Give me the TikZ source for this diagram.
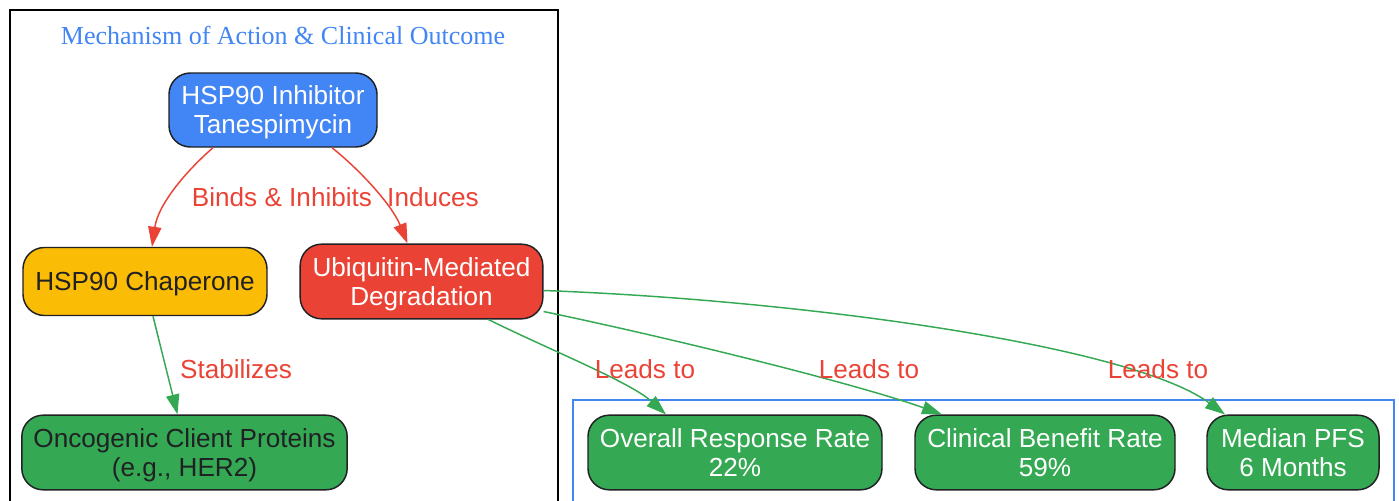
\documentclass[tikz,border=0pt]{standalone}
\usepackage{fontspec}
\setmainfont{Liberation Sans}
\newfontfamily\titlefont{Liberation Serif}
\usetikzlibrary{arrows.meta}
\usetikzlibrary{calc}

\definecolor{gblue}{RGB}{66,133,244}
\definecolor{gred}{RGB}{234,67,53}
\definecolor{gyellow}{RGB}{251,188,5}
\definecolor{ggreen}{RGB}{52,168,83}
\definecolor{gdark}{RGB}{32,33,36}

\tikzset{
  box/.style={draw=gdark, line width=1.1pt, rounded corners=16pt, align=center,
    inner sep=0pt, minimum height=56pt, text depth=-2pt,
    font=\fontsize{19.6}{21.75}\selectfont},
  lbl/.style={text=gred, inner sep=0pt, font=\fontsize{19.6}{21.75}\selectfont},
  edge/.style={line width=1.1pt, -{Triangle[length=15pt,width=10pt]}},
}

\begin{document}
\begin{tikzpicture}[x=0.75pt,y=0.75pt,yscale=-1]
\useasboundingbox (0,0) rectangle (1399,500);
\clip (0,0) rectangle (1399,500);

%Frames
\draw [line width=1.1pt, black] (10,10) rectangle (558,520) ;
\draw [line width=1.1pt, gblue] (573,400) rectangle (1394,520) ;

% Title
\node (title) at (283,35) [text=gblue, inner sep=0pt, font=\titlefont\fontsize{19.5}{22}\selectfont] {Mechanism of Action \& Clinical Outcome};

%Nodes
\node (inhibitor) at (273,110) [box, fill=gblue, text=white, minimum width=156pt, minimum height=55.5pt] {HSP90 Inhibitor\\Tanespimycin};
\node (chaperone) at (145,281.5) [box, fill=gyellow, text=gdark, minimum width=183pt, minimum height=51pt] {HSP90 Chaperone};
\node (degrad) at (421.5,281.5) [box, fill=gred, text=white, minimum width=182pt] {Ubiquitin-Mediated\\Degradation};
\node (client) at (184.5,452.5) [box, fill=ggreen, text=gdark, minimum width=244pt] {Oncogenic Client Proteins\\(e.g., HER2)};
\node (orr) at (735,452.5) [box, fill=ggreen, text=white, minimum width=220.5pt] {Overall Response Rate\\22\%};
\node (cbr) at (1045,452.5) [box, fill=ggreen, text=white, minimum width=195pt] {Clinical Benefit Rate\\59\%};
\node (pfs) at (1293,452.5) [box, fill=ggreen, text=white, minimum width=129pt] {Median PFS\\6 Months};

%Edges
\draw [edge, gred] ($(inhibitor.south)+(-60,0)$) .. controls (185,172) and (158,205) .. ($(chaperone.north)+(7,0)$) ;
\draw [edge, gred] ($(inhibitor.south)+(59,0)$) .. controls (360,170) and (392,205) .. ($(degrad.north)+(-14,0)$) ;
\draw [edge, ggreen] ($(chaperone.south)+(8,0)$) -- ($(client.north)+(-7,0)$) ;
\draw [edge, ggreen] ($(degrad.south)+(67,0)$) .. controls (550,350) and (630,382) .. ($(orr.north)+(-69,0)$) ;
\draw [edge, ggreen] ($(degrad.east)+(0,30)$) .. controls (680,340) and (860,385) .. ($(cbr.north)+(-103,0)$) ;
\draw [edge, ggreen] ($(degrad.east)+(0,9)$) .. controls (800,300) and (1130,345) .. ($(pfs.north)+(-68,0)$) ;

% Edge labels
\node (lbinds) at (282,197) [lbl] {Binds \& Inhibits};
\node (linduces) at (433,197) [lbl] {Induces};
\node (lstab) at (236,369) [lbl] {Stabilizes};
\node (lorr) at (645,369) [lbl] {Leads to};
\node (lcbr) at (869,369) [lbl] {Leads to};
\node (lpfs) at (1158,369) [lbl] {Leads to};

\end{tikzpicture}
\end{document}
